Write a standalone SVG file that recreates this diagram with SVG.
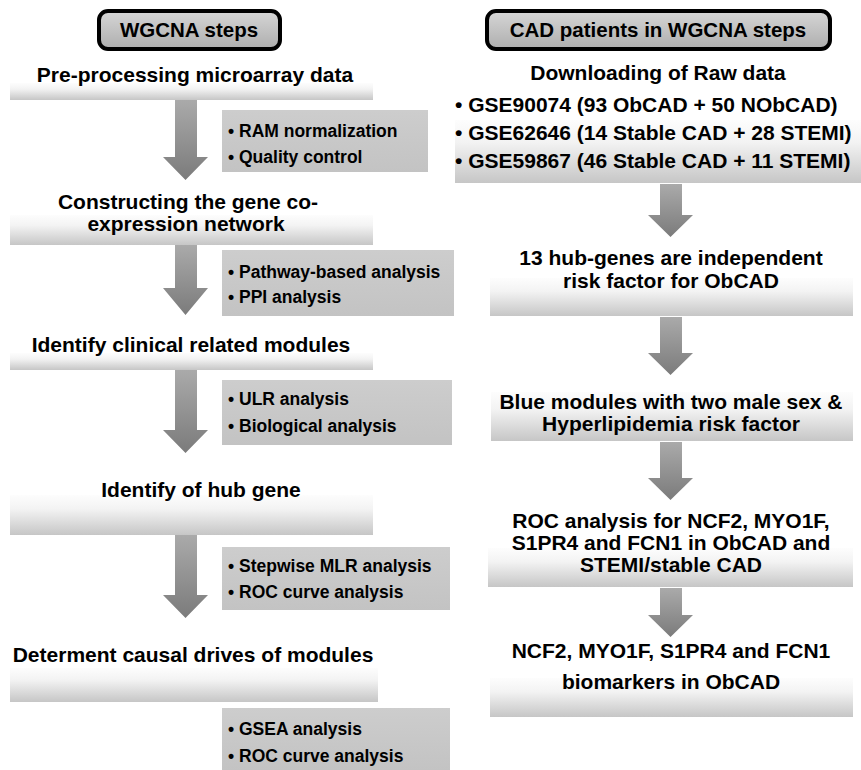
<svg xmlns="http://www.w3.org/2000/svg" width="861" height="770" viewBox="0 0 861 770">
<defs>
<linearGradient id="barG" x1="0" y1="0" x2="0" y2="1">
<stop offset="0" stop-color="#fdfdfd"/>
<stop offset="0.35" stop-color="#f3f3f3"/>
<stop offset="1" stop-color="#c6c6c6"/>
</linearGradient>
<linearGradient id="arrG" x1="0" y1="0" x2="0" y2="1">
<stop offset="0" stop-color="#aaaaaa"/>
<stop offset="1" stop-color="#7b7b7b"/>
</linearGradient>
<linearGradient id="hdrG" x1="0" y1="0" x2="0" y2="1">
<stop offset="0" stop-color="#d6d6d6"/>
<stop offset="1" stop-color="#aeaeae"/>
</linearGradient>
<linearGradient id="boxG" x1="0" y1="0" x2="0" y2="1">
<stop offset="0" stop-color="#cdcdcd"/>
<stop offset="1" stop-color="#c3c3c3"/>
</linearGradient>
</defs>
<style>
text{font-family:"Liberation Sans",Arial,Helvetica,sans-serif;font-weight:bold;fill:#000}
.h{font-size:20.5px;text-anchor:middle}
.t{font-size:21px;text-anchor:middle}
.g{font-size:21px}
.b{font-size:17.5px}
.hdr{fill:url(#hdrG);stroke:#000;stroke-width:4}
.bar{fill:url(#barG)}
.box{fill:url(#boxG)}
.arr{fill:url(#arrG)}
</style>
<rect width="861" height="770" fill="#ffffff"/>

<g id="header-left">
<rect class="hdr" x="99" y="11" width="181" height="38" rx="9"/>
<text class="h" x="189" y="37">WGCNA steps</text>
</g>
<g id="header-right">
<rect class="hdr" x="487" y="11" width="343" height="38" rx="9"/>
<text class="h" x="658" y="37">CAD patients in WGCNA steps</text>
</g>

<g id="step-preprocessing">
<rect class="bar" x="10" y="83" width="363" height="17"/>
<text class="t" x="195" y="82">Pre-processing microarray data</text>
</g>
<g id="note-preprocessing">
<rect class="box" x="222" y="110" width="206" height="62"/>
<text class="b" x="228" y="137">• RAM normalization</text>
<text class="b" x="228" y="163">• Quality control</text>
</g>

<g id="step-network">
<rect class="bar" x="10" y="215" width="363" height="30"/>
<text class="t" x="188" y="209">Constructing the gene co-</text>
<text class="t" x="186" y="231">expression network</text>
</g>
<g id="note-network">
<rect class="box" x="222" y="250" width="232" height="66"/>
<text class="b" x="228" y="278">• Pathway-based analysis</text>
<text class="b" x="228" y="303">• PPI analysis</text>
</g>

<g id="step-modules">
<rect class="bar" x="10" y="353" width="363" height="17"/>
<text class="t" x="191" y="352">Identify clinical related modules</text>
</g>
<g id="note-modules">
<rect class="box" x="222" y="380" width="230" height="65"/>
<text class="b" x="228" y="405">• ULR analysis</text>
<text class="b" x="228" y="432">• Biological analysis</text>
</g>

<g id="step-hub">
<rect class="bar" x="10" y="495" width="363" height="40"/>
<text class="t" x="201" y="497">Identify of hub gene</text>
</g>
<g id="note-hub">
<rect class="box" x="222" y="547" width="228" height="63"/>
<text class="b" x="228" y="572">• Stepwise MLR analysis</text>
<text class="b" x="228" y="598">• ROC curve analysis</text>
</g>

<g id="step-causal">
<rect class="bar" x="10" y="668" width="368" height="34"/>
<text class="t" x="193" y="662">Determent causal drives of modules</text>
</g>
<g id="note-causal">
<rect class="box" x="222" y="708" width="228" height="62"/>
<text class="b" x="228" y="735">• GSEA analysis</text>
<text class="b" x="228" y="762">• ROC curve analysis</text>
</g>

<g id="step-download">
<rect class="bar" x="455" y="120" width="406" height="63"/>
<text class="t" x="658" y="80">Downloading of Raw data</text>
<text class="g" x="455" y="112">• GSE90074 (93 ObCAD + 50 NObCAD)</text>
<text class="g" x="455" y="140">• GSE62646 (14 Stable CAD + 28 STEMI)</text>
<text class="g" x="455" y="168">• GSE59867 (46 Stable CAD + 11 STEMI)</text>
</g>

<g id="step-hubgenes">
<rect class="bar" x="490" y="278" width="363" height="38"/>
<text class="t" x="671" y="265">13 hub-genes are independent</text>
<text class="t" x="671" y="288">risk factor for ObCAD</text>
</g>

<g id="step-blue">
<rect class="bar" x="491" y="392" width="362" height="49"/>
<text class="t" x="671" y="409">Blue modules with two male sex &amp;</text>
<text class="t" x="671" y="431">Hyperlipidemia risk factor</text>
</g>

<g id="step-roc">
<rect class="bar" x="488" y="548" width="365" height="39"/>
<text class="t" x="671" y="528">ROC analysis for NCF2, MYO1F,</text>
<text class="t" x="671" y="550">S1PR4 and FCN1 in ObCAD and</text>
<text class="t" x="671" y="572">STEMI/stable CAD</text>
</g>

<g id="step-biomarkers">
<rect class="bar" x="490" y="678" width="363" height="39"/>
<text class="t" x="671" y="658">NCF2, MYO1F, S1PR4 and FCN1</text>
<text class="t" x="671" y="689">biomarkers in ObCAD</text>
</g>

<g id="connectors">
<path class="arr" d="M175,100 H197 V157 H208 L185.5,180 L163,157 H175 Z"/>
<path class="arr" d="M175,245 H197 V288 H208 L185.5,315 L163,288 H175 Z"/>
<path class="arr" d="M175,370 H197 V430 H208 L185.5,453 L163,430 H175 Z"/>
<path class="arr" d="M175,535 H197 V595 H208 L185.5,618 L163,595 H175 Z"/>
<path class="arr" d="M660,184 H682 V215 H693 L670.5,237 L648,215 H660 Z"/>
<path class="arr" d="M660,317 H682 V353 H693 L670.5,375 L648,353 H660 Z"/>
<path class="arr" d="M660,442 H682 V478 H693 L670.5,500 L648,478 H660 Z"/>
<path class="arr" d="M660,588 H682 V615 H693 L670.5,637 L648,615 H660 Z"/>
</g>
</svg>
